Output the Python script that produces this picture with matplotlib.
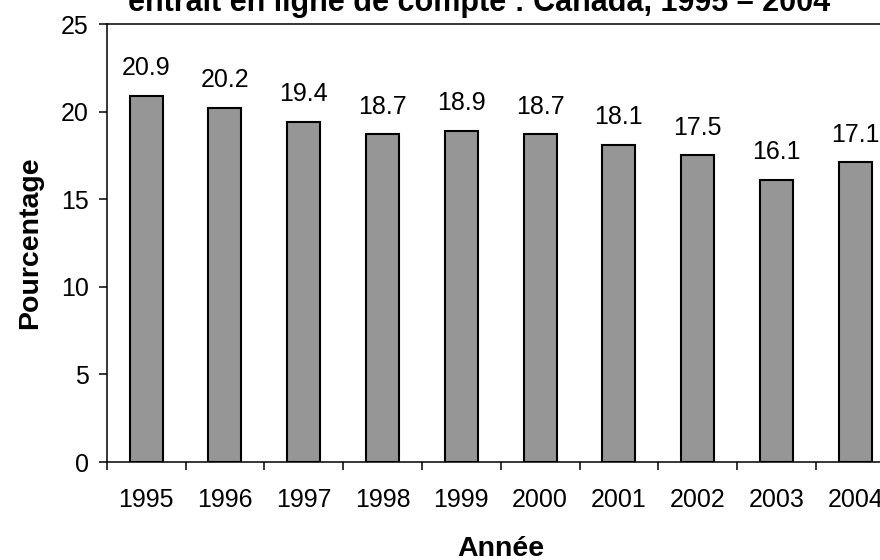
import numpy as np
import matplotlib.pyplot as plt

plt.rcParams['font.family'] = ['Liberation Sans', 'DejaVu Sans']

years = ['1995', '1996', '1997', '1998', '1999', '2000', '2001', '2002', '2003', '2004']
values = [20.9, 20.2, 19.4, 18.7, 18.9, 18.7, 18.1, 17.5, 16.1, 17.1]
title_text = 'entrait en ligne de compte : Canada, 1995 – 2004'

fig = plt.figure(figsize=(8.8, 5.6), dpi=100)
ax = fig.add_axes([106.7 / 880, 98 / 560, 788 / 880, 438 / 560])

x = np.arange(len(years))
bars = ax.bar(x, values, width=0.42, color='#969696', edgecolor='black', linewidth=1.5)

# value labels above each bar
for xi, v in zip(x, values):
    ax.annotate(f'{v:.1f}', (xi, v), xytext=(0, 15), textcoords='offset points',
                ha='center', va='baseline', fontsize=18)

ax.set_xlim(-0.5, len(years) - 0.5)
ax.set_ylim(0, 25)
ax.set_yticks(range(0, 26, 5))
ax.set_xticks(x)
ax.set_xticklabels(years)
ax.set_xticks(np.arange(-0.5, len(years), 1.0), minor=True)

ax.tick_params(axis='x', which='major', length=0, pad=19, labelsize=18)
ax.tick_params(axis='x', which='minor', length=6, width=1.1, direction='out')
ax.tick_params(axis='y', length=6, width=1.1, pad=7, labelsize=18)

for s in ax.spines.values():
    s.set_linewidth(1.1)

ax.set_ylabel('Pourcentage', fontsize=20.5, fontweight='bold')
ax.yaxis.set_label_coords(-0.081, 0.5)
ax.set_xlabel('Année', fontsize=20.5, fontweight='bold')
ax.xaxis.set_label_coords(0.5, -0.169)

fig.text(479 / 880, 1 - 11 / 560, title_text, ha='center', va='baseline',
         fontsize=22, fontweight='bold')

fig.savefig('out.png', dpi=100)
